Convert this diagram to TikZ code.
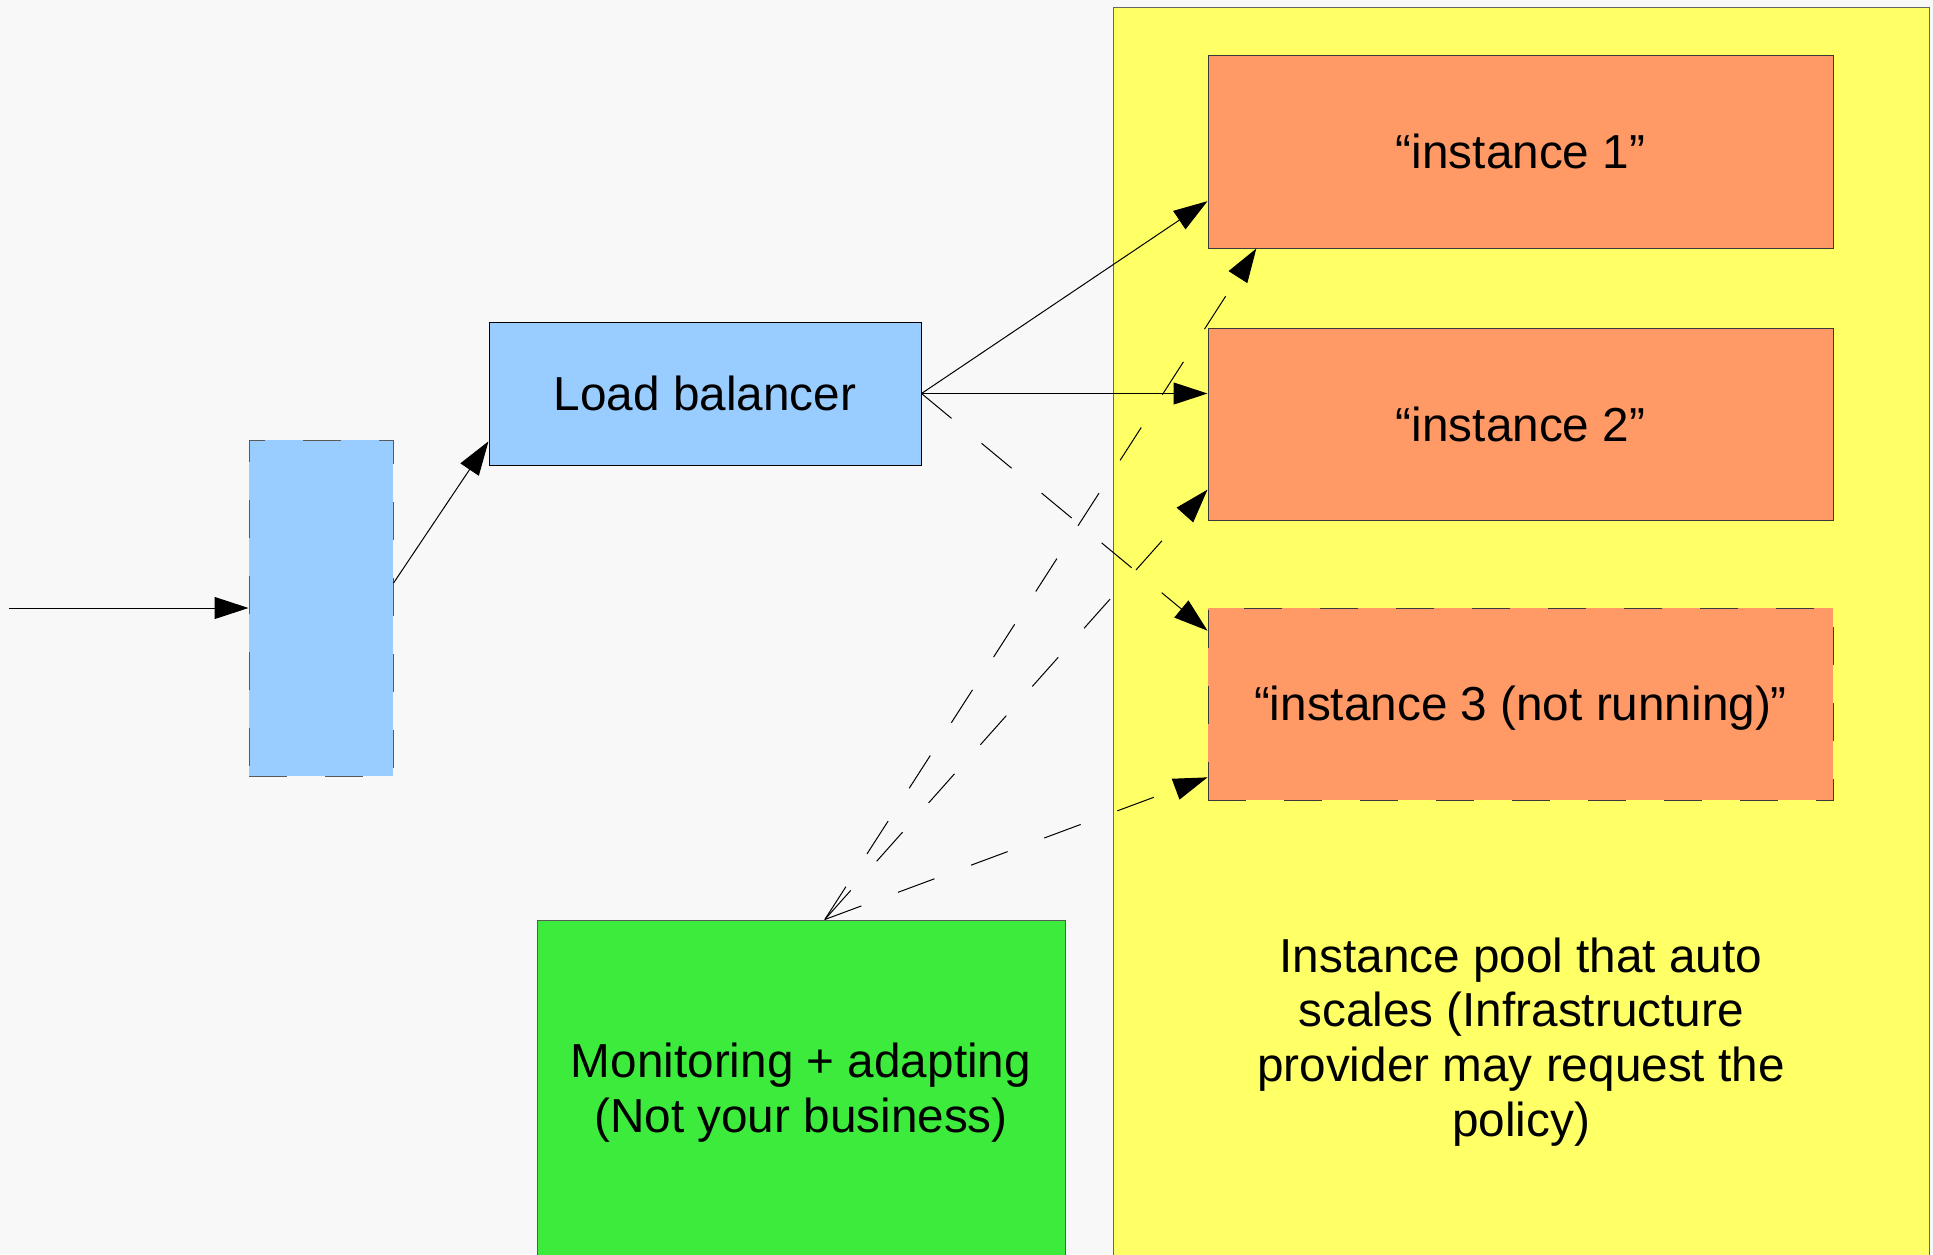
\documentclass[tikz,border=0pt]{standalone}
\usepackage{fontspec}
\setmainfont{Liberation Sans}
\usetikzlibrary{arrows.meta,calc}

\definecolor{paper}{HTML}{F8F8F8}
\definecolor{poolfill}{HTML}{FFFF66}
\definecolor{instfill}{HTML}{FF9966}
\definecolor{lbfill}{HTML}{99CCFF}
\definecolor{monfill}{HTML}{3DEB3D}
\definecolor{edge}{HTML}{3A3A3A}

\begin{document}
\begin{tikzpicture}[x=0.5pt,y=-0.5pt,
  box/.style={draw=edge, line width=0.5pt, inner sep=0pt, align=center,
    font=\fontsize{23.85}{27.4}\selectfont},
  dashedbox/.style={box, dash pattern=on 19pt off 19pt},
  link/.style={draw=black, line width=0.5pt,
    -{Triangle[length=17pt,width=11pt]}},
  dashedlink/.style={link, dash pattern=on 19.5pt off 19.5pt},
  label/.style={inner sep=0pt, align=center,
    font=\fontsize{23.85}{27.4}\selectfont}]

% page
\fill[paper] (0,0) rectangle (1933,1254);
\useasboundingbox (0,0) rectangle (1933,1254);

% auto-scaling instance pool
\node[box, fill=poolfill, draw=black!60, minimum width=408pt, minimum height=626.5pt]
  (pool) at (1521,633.5) {};
\node[label] (pooltext) at (1521,1042)
  {Instance pool that auto\\scales (Infrastructure\\provider may request the\\policy)};

% instances
\node[box, fill=instfill, minimum width=312.5pt, minimum height=96.5pt]
  (inst1) at (1520.5,151.5) {“instance 1”};
\node[box, fill=instfill, minimum width=312.5pt, minimum height=96pt]
  (inst2) at (1520.5,424) {“instance 2”};
\node[dashedbox, fill=instfill, minimum width=312.5pt, minimum height=96pt]
  (inst3) at (1520.5,704) {};
\node[label] (inst3text) at ([yshift=-2pt]inst3.center) {“instance 3 (not running)”};

% front end
\node[dashedbox, fill=lbfill, draw=black!65, minimum width=72pt, minimum height=168pt]
  (ingress) at (321,608) {};
\node[box, fill=lbfill, draw=black, minimum width=216pt, minimum height=71.5pt]
  (lb) at (705,393.5) {Load balancer};

% monitoring
\node[box, fill=monfill, draw=black!65, minimum width=264pt, minimum height=169pt]
  (mon) at (801,1089) {};
\node[label] (montext) at ([yshift=-2pt]mon.center)
  {Monitoring + adapting\\(Not your business)};

% request path
\coordinate (client) at (9,608);
\draw[link] (client) -- (client -| ingress.west);
\draw[link] ($(ingress.south east)!0.574!(ingress.north east)$)
  -- ($(lb.south west)!0.168!(lb.north west)$);
\draw[link] (lb.east) -- ($(inst1.south west)!0.244!(inst1.north west)$);
\draw[link] (lb.east) -- (lb.east -| inst2.west);
\draw[dashedlink] (lb.east) -- ($(inst3.south west)!0.88!(inst3.north west)$);

% scaling control
\coordinate (ctl) at ($(mon.north west)!0.545!(mon.north east)$);
\draw[dashedlink] (ctl) -- ($(inst1.south west)!0.078!(inst1.south east)$);
\draw[dashedlink] (ctl) -- ($(inst2.south west)!0.16!(inst2.north west)$);
\draw[dashedlink] (ctl) -- ($(inst3.south west)!0.12!(inst3.north west)$);

\end{tikzpicture}
\end{document}
